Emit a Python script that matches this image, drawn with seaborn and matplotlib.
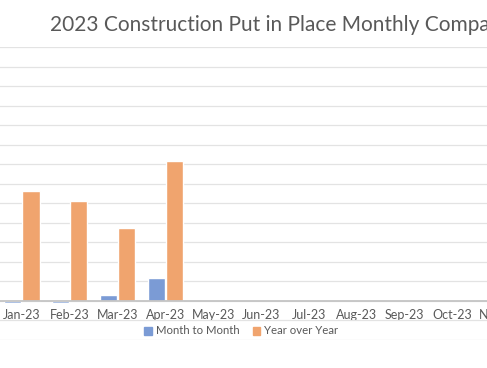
import pandas as pd
import seaborn as sns
import matplotlib.pyplot as plt

months = ['Jan-23', 'Feb-23', 'Mar-23', 'Apr-23', 'May-23', 'Jun-23',
          'Jul-23', 'Aug-23', 'Sep-23', 'Oct-23', 'Nov-23', 'Dec-23']
month_to_month = [-0.1, -0.1, 0.3, 1.15, None, None, None, None, None, None, None, None]
year_over_year = [5.65, 5.12, 3.75, 7.15, None, None, None, None, None, None, None, None]
series = ['Month to Month', 'Year over Year']
colors = {'Month to Month': '#7b9bd5', 'Year over Year': '#f0a46e'}

df = pd.DataFrame({
    'Month': months * 2,
    'Value': month_to_month + year_over_year,
    'Series': [series[0]] * len(months) + [series[1]] * len(months),
})

sns.set_style('white')
plt.rcParams['font.family'] = ['Lato', 'DejaVu Sans']

fig = plt.figure(figsize=(4.87, 3.68), dpi=100)
# axes run past the left/right edges, like the cropped original
ax = fig.add_axes([-2 / 487, 1 - 340 / 368, 573.6 / 487, 293 / 368])

sns.barplot(data=df, x='Month', y='Value', hue='Series', order=months,
            hue_order=series, palette=colors, width=0.76, gap=0.05,
            saturation=1, ax=ax, zorder=3)

ax.set_ylim(-2, 13)
ax.set_yticks(range(-2, 14))
ax.yaxis.grid(True, color='#e3e3e3', linewidth=0.9, zorder=0)
ax.set_axisbelow(True)
ax.tick_params(axis='y', left=False, labelleft=False)
ax.set_xlim(-0.5, len(months) - 0.5)

for side in ['left', 'right', 'top']:
    ax.spines[side].set_visible(False)
ax.spines['bottom'].set_position(('data', 0))
ax.spines['bottom'].set_color('#c4c4c4')
ax.spines['bottom'].set_linewidth(1.3)
ax.spines['bottom'].set_zorder(4)

ax.set_xticks([i + 0.5 for i in range(len(months))], minor=True)
ax.tick_params(axis='x', which='minor', length=4, width=1.3, color='#c4c4c4')
ax.tick_params(axis='x', which='major', length=0, pad=6, labelsize=9, labelcolor='#595959')
ax.set_xlabel('')
ax.set_ylabel('')

ax.get_legend().remove()
handles = [plt.Rectangle((0, 0), 1, 1, color=colors[s]) for s in series]
fig.legend(handles, series, loc='center', bbox_to_anchor=(241.5 / 487, 1 - 331 / 368),
           ncol=2, frameon=False, fontsize=8.2, labelcolor='#595959',
           handlelength=0.7, handleheight=0.7, handletextpad=0.35, columnspacing=1.1)

fig.text(50 / 487, 1 - 25 / 368, '2023 Construction Put in Place Monthly Comparison',
         ha='left', va='center', fontsize=15, color='#595959')

fig.savefig('out.png', dpi=100)
